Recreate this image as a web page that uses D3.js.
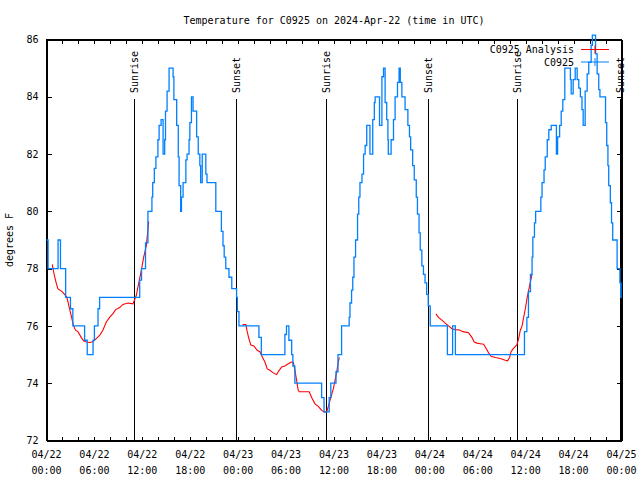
<!DOCTYPE html>
<html>
<head>
<meta charset="utf-8">
<script src="https://cdn.jsdelivr.net/npm/d3@7"></script>
<style>
  body { margin: 0; background: #fff; }
  svg text { font-family: "DejaVu Sans Mono", monospace; font-size: 10px; fill: #000; }
</style>
</head>
<body>
<svg id="chart"></svg>
<script>
// observed temperature (hours since 04/22 00:00 UTC, degrees F), drawn as steps
const obsHours = [0, 0.2, 1.45, 1.75, 2.4, 3.0, 3.3, 4.77, 5.1, 5.83, 6.0, 6.45, 6.65, 11.67, 11.9, 12.4, 12.7,
  13.2, 13.3, 13.5, 13.7, 13.95, 14.1, 14.35, 14.6, 14.8, 14.9, 15.1, 15.35, 15.85, 15.95, 16.3, 16.5, 16.6,
  16.8, 16.9, 17.1, 17.45, 17.6, 17.85, 17.95, 18.15, 18.35, 18.8, 19.0, 19.2, 19.3, 19.5, 19.95, 20.1, 21.2,
  21.9, 22.1, 22.25, 22.45, 22.85, 23.2, 23.8, 23.9, 24.1, 26.6, 26.9, 29.85, 30.05, 30.35, 30.7, 30.85, 31.1,
  34.45, 34.75, 35.4, 35.6, 36.25, 36.5, 36.95, 37.9, 38.0, 38.2, 38.35, 38.5, 38.7, 38.95, 39.1, 39.25, 39.5,
  39.7, 39.9, 40.1, 40.5, 40.85, 41.05, 41.15, 41.7, 42.0, 42.2, 42.4, 42.6, 42.75, 42.8, 43.15, 43.45, 43.65,
  43.95, 44.15, 44.3, 44.5, 44.9, 45.25, 45.45, 45.6, 45.85, 46.05, 46.3, 46.45, 46.65, 46.8, 47.0, 47.2, 47.4,
  47.6, 47.8, 48.05, 50.2, 50.85, 51.2, 59.85, 60.15, 60.35, 60.6, 60.8, 60.9, 61.1, 61.25, 61.9, 62.05, 62.3,
  62.45, 62.7, 62.9, 63.2, 63.85, 64.0, 64.25, 64.45, 64.65, 64.9, 65.6, 65.7, 65.95, 66.2, 66.45, 66.65, 66.85,
  67.05, 67.2, 67.45, 67.7, 67.9, 68.2, 68.35, 68.75, 68.95, 69.15, 69.3, 70.0, 70.15, 70.3, 70.4, 70.6, 70.75,
  70.9, 71.45, 71.8, 71.9, 71.95, 72];
const obsTemps = [79, 78, 79, 78, 77, 76.6, 76, 75.5, 75, 75.5, 76, 76.6, 77, 77.6, 78, 78.9, 80,
  80.5, 81, 81.5, 81.9, 82.5, 83, 83.2, 82, 82.5, 83.5, 84.2, 85, 84.7, 83.9, 83, 81.9, 80.9,
  80, 80.5, 81, 81.8, 82, 82.5, 83.1, 84, 83.5, 82.6, 82, 81.6, 81, 82, 81.3, 81, 80,
  79.3, 78.8, 78.4, 78, 77.7, 77.3, 77, 76.5, 76, 75.6, 75, 75.7, 76, 75.5, 75, 74.6, 74,
  73.5, 73, 73.5, 74, 74.4, 75, 76, 76.3, 76.8, 77.25, 77.7, 78.4, 79, 79.9, 80.5, 81, 81.3,
  82, 82.3, 83, 82, 83.2, 83.8, 84, 83, 84.7, 85, 83.8, 83.2, 82.5, 82, 82.5, 83.2, 84,
  84.5, 85, 84.5, 84, 83.55, 83, 82.6, 82.15, 81.6, 81.1, 80.5, 79.9, 79.25, 78.65, 78.1, 77.8, 77.5,
  77.1, 76.7, 76, 75, 76, 75, 75.8, 76.3, 77.2, 77.8, 78.4, 79.1, 79.6, 80, 80.5, 81, 81.45,
  81.9, 82.5, 82.85, 83, 82, 82.6, 83, 83.5, 83.9, 85, 84.6, 84.1, 84.6, 85, 84.6, 84.3, 84,
  83.55, 83, 84.2, 84.8, 85.2, 85.8, 86.15, 85.5, 84.8, 84.25, 84, 83.1, 82.3, 81.6, 80.9, 80.3, 79.6,
  79, 78, 77.5, 77, 77.5, 77.5];

// analysis runs, [hour, degrees F]
const analysisDay1 = [[0.72, 78.15], [0.88, 77.9], [1.17, 77.55], [1.42, 77.3], [1.95, 77.2], [2.26, 77.1],
  [2.55, 77.0], [2.97, 76.5], [3.39, 76.0], [3.64, 75.85], [3.93, 75.8], [4.35, 75.6], [4.64, 75.48],
  [4.98, 75.44], [5.39, 75.42], [5.81, 75.45], [6.23, 75.56], [6.65, 75.67], [7.06, 75.85], [7.49, 76.14],
  [7.9, 76.3], [8.32, 76.43], [8.66, 76.57], [9.16, 76.64], [9.57, 76.75], [10.2, 76.8], [10.83, 76.77],
  [11.25, 77.07], [11.58, 77.54], [11.88, 77.95], [12.17, 78.4], [12.5, 78.8], [12.8, 79.65]];
const analysisDay2 = [[24.55, 76.05], [24.96, 76.05], [25.13, 75.8], [25.34, 75.56], [25.59, 75.33],
  [25.97, 75.3], [26.38, 75.15], [26.72, 75.1], [27.06, 74.9], [27.35, 74.74], [27.64, 74.5], [27.97, 74.45],
  [28.39, 74.36], [28.81, 74.3], [29.14, 74.45], [29.44, 74.57], [29.85, 74.6], [30.27, 74.68],
  [30.69, 74.74], [30.9, 74.74], [31.11, 74.45], [31.32, 74.1], [31.52, 73.75], [31.65, 73.7], [32.9, 73.7],
  [33.2, 73.5], [33.62, 73.28], [34.03, 73.19], [34.46, 73.05], [34.75, 73.0], [35.09, 73.0], [35.29, 73.19],
  [35.5, 73.4], [35.71, 73.6], [35.91, 73.8], [36.13, 74.1], [36.34, 74.4], [36.54, 74.74], [36.67, 74.9]];
const analysisDay3 = [[48.76, 76.42], [49.08, 76.3], [49.51, 76.2], [49.92, 76.1], [50.34, 76.0],
  [50.76, 75.9], [51.18, 75.87], [51.72, 75.86], [52.15, 75.8], [52.85, 75.76], [53.27, 75.6], [53.56, 75.44],
  [53.9, 75.4], [54.32, 75.38], [54.73, 75.36], [55.07, 75.2], [55.36, 75.06], [55.66, 74.94], [56.2, 74.9],
  [56.83, 74.86], [57.45, 74.8], [57.74, 74.78], [57.99, 74.9], [58.17, 75.1], [58.42, 75.2], [58.71, 75.29],
  [58.92, 75.36], [59.12, 75.56], [59.33, 75.85], [59.55, 76.0], [59.75, 76.3], [59.96, 76.6], [60.17, 76.96],
  [60.38, 77.25], [60.59, 77.54], [60.8, 77.8]];

const sunHours = [11.0, 23.75, 34.98, 47.75, 58.96, 71.75];
const sunLabels = ['Sunrise', 'Sunset', 'Sunrise', 'Sunset', 'Sunrise', 'Sunset'];

const xTickHours = [0, 6, 12, 18, 24, 30, 36, 42, 48, 54, 60, 66, 72];
const xTickDates = ['04/22', '04/22', '04/22', '04/22', '04/23', '04/23', '04/23', '04/23', '04/24', '04/24', '04/24', '04/24', '04/25'];
const xTickTimes = ['00:00', '06:00', '12:00', '18:00', '00:00', '06:00', '12:00', '18:00', '00:00', '06:00', '12:00', '18:00', '00:00'];
const yTicks = [72, 74, 76, 78, 80, 82, 84, 86];

const seriesNames = ['C0925 Analysis', 'C0925'];
const seriesColors = ['#ff0000', '#0080ff'];

const width = 640, height = 480;
const plot = { left: 46.5, right: 621.5, top: 39.5, bottom: 440.5 };

const svg = d3.select('#chart')
    .attr('width', width)
    .attr('height', height);

const x = d3.scaleLinear().domain([0, 72]).range([plot.left, plot.right]);
const y = d3.scaleLinear().domain([72, 86]).range([plot.bottom, plot.top]);

// axes, ticks point inwards like the original
const minorHours = d3.range(0, 73, 2);
svg.append('g')
    .attr('transform', `translate(0,${plot.bottom})`)
    .call(d3.axisBottom(x).tickValues(minorHours).tickSize(-4).tickSizeOuter(0).tickFormat(''));
svg.append('g')
    .attr('transform', `translate(0,${plot.top})`)
    .call(d3.axisTop(x).tickValues(minorHours).tickSize(-4).tickSizeOuter(0).tickFormat(''));
svg.append('g')
    .attr('class', 'y-axis')
    .attr('transform', `translate(${plot.left},0)`)
    .call(d3.axisLeft(y).tickValues(yTicks).tickSize(-5).tickSizeOuter(0).tickPadding(8).tickFormat(d3.format('d')));
svg.append('g')
    .attr('transform', `translate(${plot.right},0)`)
    .call(d3.axisRight(y).tickValues(yTicks).tickSize(-5).tickSizeOuter(0).tickFormat(''));

svg.selectAll('.domain, .tick line')
    .attr('stroke', '#000')
    .attr('shape-rendering', 'crispEdges');
svg.selectAll('.y-axis text')
    .style('font-family', '"DejaVu Sans Mono", monospace')
    .style('font-size', '10px');

svg.append('rect')
    .attr('x', plot.left).attr('y', plot.top)
    .attr('width', plot.right - plot.left).attr('height', plot.bottom - plot.top)
    .attr('fill', 'none').attr('stroke', '#000')
    .attr('shape-rendering', 'crispEdges');

// two-line time labels
const xLab = svg.append('g').selectAll('text')
    .data(xTickHours)
    .join('text')
    .attr('text-anchor', 'middle');
xLab.append('tspan').attr('x', d => x(d)).attr('y', 458).text((d, i) => xTickDates[i]);
xLab.append('tspan').attr('x', d => x(d)).attr('y', 474).text((d, i) => xTickTimes[i]);

// title and axis name
svg.append('text')
    .attr('x', (plot.left + plot.right) / 2)
    .attr('y', 24)
    .attr('text-anchor', 'middle')
    .text('Temperature for C0925 on 2024-Apr-22 (time in UTC)');
svg.append('text')
    .attr('transform', `translate(13,${(plot.top + plot.bottom) / 2}) rotate(-90)`)
    .attr('text-anchor', 'middle')
    .text('degrees F');

// sunrise / sunset markers
svg.append('g').selectAll('line')
    .data(sunHours)
    .join('line')
    .attr('x1', d => Math.round(x(d)) + 0.5).attr('x2', d => Math.round(x(d)) + 0.5)
    .attr('y1', plot.bottom).attr('y2', 99)
    .attr('stroke', '#000');
svg.append('g').selectAll('text')
    .data(sunHours)
    .join('text')
    .attr('transform', d => `translate(${Math.round(x(d)) + 0.5},93) rotate(-90)`)
    .attr('dy', '0.35em')
    .text((d, i) => sunLabels[i]);

// data lines
const obs = obsHours.map((h, i) => [h, obsTemps[i]]);
const stepLine = d3.line().x(d => x(d[0])).y(d => y(d[1])).curve(d3.curveStepAfter);
const smoothLine = d3.line().x(d => x(d[0])).y(d => y(d[1]));

svg.append('g').selectAll('path')
    .data([analysisDay1, analysisDay2, analysisDay3])
    .join('path')
    .attr('d', smoothLine)
    .attr('fill', 'none')
    .attr('stroke', seriesColors[0])
    .attr('stroke-width', 1.1);

svg.append('path')
    .datum(obs)
    .attr('d', stepLine)
    .attr('fill', 'none')
    .attr('stroke', seriesColors[1])
    .attr('stroke-width', 1.3);

// key
const key = svg.append('g').selectAll('g')
    .data(seriesNames)
    .join('g')
    .attr('transform', (d, i) => `translate(0,${49.5 + i * 12.5})`);
key.append('text')
    .attr('x', 574).attr('dy', '0.35em')
    .attr('text-anchor', 'end')
    .text(d => d);
key.append('line')
    .attr('x1', 581).attr('x2', 609)
    .attr('stroke', (d, i) => seriesColors[i]);
key.append('line')
    .attr('x1', 595).attr('x2', 595).attr('y1', -4).attr('y2', 4)
    .attr('stroke', (d, i) => seriesColors[i]);
</script>
</body>
</html>
